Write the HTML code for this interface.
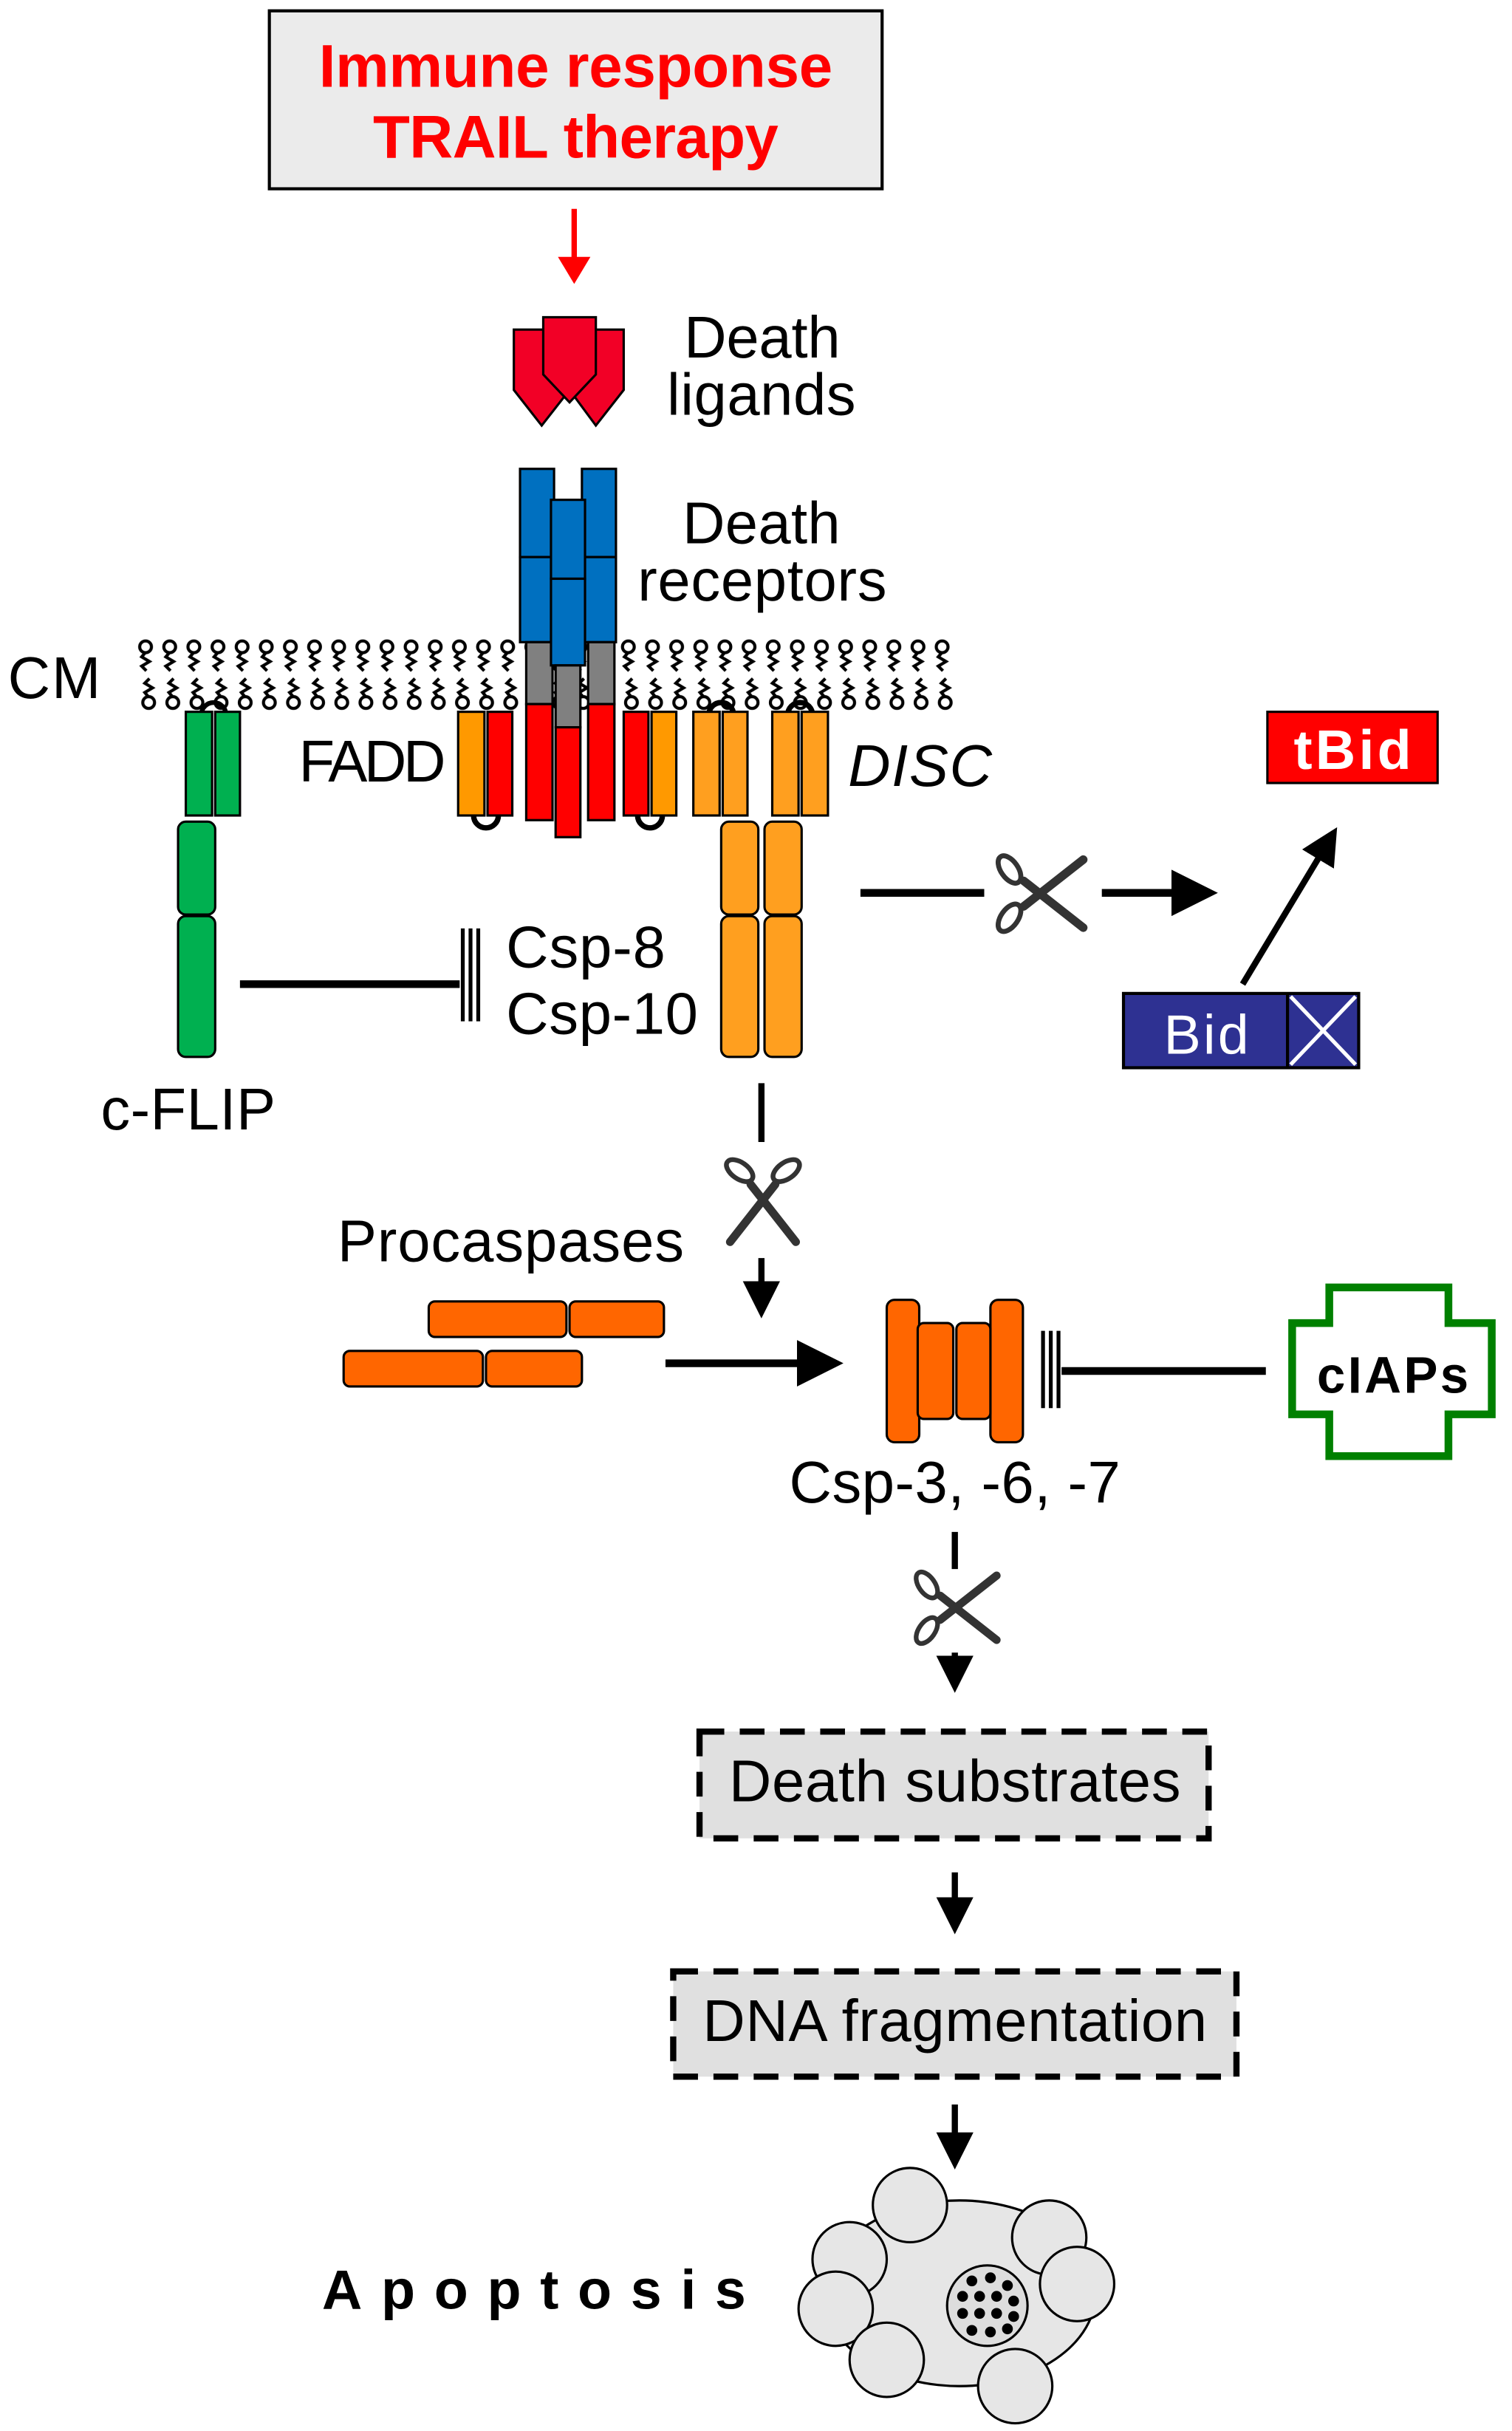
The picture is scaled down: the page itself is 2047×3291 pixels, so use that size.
<!DOCTYPE html>
<html><head><meta charset="utf-8"><style>
html,body{margin:0;padding:0;background:#fff}
svg{display:block}
text{font-family:"Liberation Sans",Arial,sans-serif}
</style></head><body>
<svg width="2047" height="3291" viewBox="0 0 977 1571" xmlns="http://www.w3.org/2000/svg">
<defs>
<pattern id="lip" x="87" y="410" width="15.6" height="52" patternUnits="userSpaceOnUse">
 <circle cx="7" cy="8" r="3.8" fill="#fff" stroke="#000" stroke-width="2"/>
 <path d="M7 11.5 l-2.5 3 l5 3 l-5 3 l3 3" fill="none" stroke="#000" stroke-width="2"/>
 <circle cx="9" cy="44" r="3.8" fill="#fff" stroke="#000" stroke-width="2"/>
 <path d="M9 40.5 l-2.5 -3 l5 -3 l-5 -3 l3 -3" fill="none" stroke="#000" stroke-width="2"/>
</pattern>
<symbol id="sc" viewBox="-35 -30 70 60" overflow="visible">
 <line x1="-12" y1="-9" x2="30" y2="24" stroke="#333" stroke-width="6" stroke-linecap="round"/>
 <line x1="-12" y1="9" x2="30" y2="-24" stroke="#333" stroke-width="6" stroke-linecap="round"/>
 <ellipse cx="-22" cy="-17" rx="6" ry="11" transform="rotate(-35 -22 -17)" fill="none" stroke="#333" stroke-width="3.5"/>
 <ellipse cx="-22" cy="17" rx="6" ry="11" transform="rotate(35 -22 17)" fill="none" stroke="#333" stroke-width="3.5"/>
</symbol>
<marker id="ah" markerWidth="6" markerHeight="6" refX="5" refY="3" orient="auto" markerUnits="strokeWidth"><path d="M0 0 L6 3 L0 6z" fill="#000"/></marker>
<marker id="ahr" markerWidth="5" markerHeight="6" refX="4" refY="3" orient="auto" markerUnits="strokeWidth"><path d="M0 0 L5 3 L0 6z" fill="#f00"/></marker>
</defs>

<rect x="174" y="7" width="396" height="115" fill="#ebebeb" stroke="#000" stroke-width="2"/>
<text x="372" y="56" text-anchor="middle" font-size="39" font-weight="bold" fill="#f00" textLength="332">Immune response</text>
<text x="372" y="102" text-anchor="middle" font-size="39" font-weight="bold" fill="#f00" textLength="262">TRAIL therapy</text>
<line x1="371" y1="135" x2="371" y2="180" stroke="#f00" stroke-width="3.5" marker-end="url(#ahr)"/>

<path d="M332 213 H368 V252 L350 275 L332 252Z" fill="#f20026" stroke="#000" stroke-width="1.5"/>
<path d="M368 213 H403 V252 L385 275 L368 252Z" fill="#f20026" stroke="#000" stroke-width="1.5"/>
<path d="M351 205 H385 V242 L368 260 L351 242Z" fill="#f20026" stroke="#000" stroke-width="1.5"/>
<text x="442" y="231" font-size="38" textLength="101">Death</text>
<text x="431" y="268" font-size="38" textLength="122">ligands</text>

<rect x="87" y="410" width="532" height="52" fill="url(#lip)"/>
<text x="5" y="451" font-size="38" textLength="60">CM</text>

<g stroke="#000" stroke-width="1.5">
<rect x="336" y="303" width="22" height="57" fill="#0070c0"/>
<rect x="336" y="360" width="22" height="55" fill="#0070c0"/>
<rect x="376" y="303" width="22" height="57" fill="#0070c0"/>
<rect x="376" y="360" width="22" height="55" fill="#0070c0"/>
<rect x="340" y="415" width="17" height="40" fill="#808080"/>
<rect x="380" y="415" width="17" height="40" fill="#808080"/>
<rect x="340" y="455" width="17" height="75" fill="#f00"/>
<rect x="380" y="455" width="17" height="75" fill="#f00"/>
<rect x="356" y="323" width="22" height="51" fill="#0070c0"/>
<rect x="356" y="374" width="22" height="56" fill="#0070c0"/>
<rect x="359" y="430" width="16" height="40" fill="#808080"/>
<rect x="359" y="470" width="16" height="71" fill="#f00"/>
</g>
<text x="441" y="351" font-size="38" textLength="102">Death</text>
<text x="412" y="388" font-size="38" textLength="161">receptors</text>

<g stroke="#000" stroke-width="1.5" fill="#00b050">
<path d="M130 462 a8 8 0 0 1 16 0" fill="none" stroke-width="3"/>
<rect x="120" y="460" width="17" height="67"/>
<rect x="139" y="460" width="16" height="67"/>
<rect x="115" y="531" width="24" height="60" rx="5"/>
<rect x="115" y="592" width="24" height="91" rx="5"/>
</g>
<text x="65" y="730" font-size="38" textLength="113">c-FLIP</text>
<line x1="155" y1="636" x2="297" y2="636" stroke="#000" stroke-width="5"/>
<g stroke="#000" stroke-width="2.5"><line x1="299" y1="600" x2="299" y2="660"/><line x1="304" y1="600" x2="304" y2="660"/><line x1="309" y1="600" x2="309" y2="660"/></g>
<text x="327" y="625" font-size="38" textLength="103">Csp-8</text>
<text x="327" y="668" font-size="38" textLength="124">Csp-10</text>

<text x="193" y="505" font-size="38" textLength="95">FADD</text>
<g stroke="#000" stroke-width="1.5">
<path d="M306 527 a8 8 0 0 0 16 0" fill="none" stroke-width="3.5"/>
<path d="M412 527 a8 8 0 0 0 16 0" fill="none" stroke-width="3.5"/>
<rect x="296" y="460" width="17" height="67" fill="#ff9900"/>
<rect x="315" y="460" width="16" height="67" fill="#f00"/>
<rect x="403" y="460" width="16" height="67" fill="#f00"/>
<rect x="421" y="460" width="16" height="67" fill="#ff9900"/>
<path d="M458 462 a8 8 0 0 1 16 0" fill="none" stroke-width="3.5"/>
<path d="M509 462 a8 8 0 0 1 16 0" fill="none" stroke-width="3.5"/>
<rect x="448" y="460" width="17" height="67" fill="#ff9f1f"/>
<rect x="467" y="460" width="16" height="67" fill="#ff9f1f"/>
<rect x="499" y="460" width="17" height="67" fill="#ff9f1f"/>
<rect x="518" y="460" width="17" height="67" fill="#ff9f1f"/>
<rect x="466" y="531" width="24" height="60" rx="5" fill="#ff9f1f"/>
<rect x="466" y="592" width="24" height="91" rx="5" fill="#ff9f1f"/>
<rect x="494" y="531" width="24" height="60" rx="5" fill="#ff9f1f"/>
<rect x="494" y="592" width="24" height="91" rx="5" fill="#ff9f1f"/>
</g>
<text x="548" y="508" font-size="38" font-style="italic" textLength="93">DISC</text>

<line x1="556" y1="577" x2="636" y2="577" stroke="#000" stroke-width="5"/>
<use href="#sc" x="640" y="550" width="65" height="55"/>
<line x1="712" y1="577" x2="782" y2="577" stroke="#000" stroke-width="5" marker-end="url(#ah)"/>
<rect x="726" y="642" width="152" height="48" fill="#2e3192" stroke="#000" stroke-width="2"/>
<line x1="832" y1="642" x2="832" y2="690" stroke="#000" stroke-width="2"/>
<g stroke="#fff" stroke-width="2.5"><line x1="834" y1="644" x2="876" y2="688"/><line x1="876" y1="644" x2="834" y2="688"/></g>
<text x="752" y="681" font-size="36" fill="#fff" textLength="55">Bid</text>
<line x1="803" y1="636" x2="862" y2="538" stroke="#000" stroke-width="4" marker-end="url(#ah)"/>
<rect x="819" y="460" width="110" height="46" fill="#f00" stroke="#000" stroke-width="1.5"/>
<text x="874" y="497" text-anchor="middle" font-size="36" font-weight="bold" fill="#fff" textLength="76">tBid</text>

<line x1="492" y1="700" x2="492" y2="738" stroke="#000" stroke-width="4"/>
<use href="#sc" x="462" y="745" width="62" height="62" transform="rotate(90 493 776)"/>
<line x1="492" y1="813" x2="492" y2="848" stroke="#000" stroke-width="4" marker-end="url(#ah)"/>
<text x="218" y="815" font-size="38" textLength="224">Procaspases</text>
<g stroke="#000" stroke-width="1.5" fill="#ff6600">
<rect x="277" y="841" width="89" height="23" rx="4"/>
<rect x="368" y="841" width="61" height="23" rx="4"/>
<rect x="222" y="873" width="90" height="23" rx="4"/>
<rect x="314" y="873" width="62" height="23" rx="4"/>
</g>
<line x1="430" y1="881" x2="540" y2="881" stroke="#000" stroke-width="5" marker-end="url(#ah)"/>
<g stroke="#000" stroke-width="1.5" fill="#ff6600">
<rect x="573" y="840" width="21" height="92" rx="5"/>
<rect x="640" y="840" width="21" height="92" rx="5"/>
<rect x="593" y="855" width="23" height="62" rx="4"/>
<rect x="618" y="855" width="22" height="62" rx="4"/>
</g>
<g stroke="#000" stroke-width="2.5"><line x1="674" y1="860" x2="674" y2="910"/><line x1="679" y1="860" x2="679" y2="910"/><line x1="684" y1="860" x2="684" y2="910"/></g>
<line x1="686" y1="886" x2="818" y2="886" stroke="#000" stroke-width="5"/>
<path d="M859 832 H936 V855 H964 V914 H936 V941 H859 V914 H835 V855 H859Z" fill="#fff" stroke="#008000" stroke-width="5"/>
<text x="900" y="900" text-anchor="middle" font-size="33" font-weight="bold" textLength="98">cIAPs</text>
<text x="510" y="971" font-size="38" textLength="214">Csp-3, -6, -7</text>

<line x1="617" y1="990" x2="617" y2="1014" stroke="#000" stroke-width="4"/>
<use href="#sc" x="586" y="1013" width="64" height="52"/>
<line x1="617" y1="1068" x2="617" y2="1090" stroke="#000" stroke-width="4" marker-end="url(#ah)"/>

<rect x="452" y="1119" width="329" height="69" fill="#e0e0e0" stroke="#000" stroke-width="4" stroke-dasharray="16 10"/>
<text x="617" y="1164" text-anchor="middle" font-size="38" textLength="292">Death substrates</text>
<line x1="617" y1="1210" x2="617" y2="1246" stroke="#000" stroke-width="4" marker-end="url(#ah)"/>
<rect x="435" y="1274" width="364" height="68" fill="#e0e0e0" stroke="#000" stroke-width="4" stroke-dasharray="16 10"/>
<text x="617" y="1319" text-anchor="middle" font-size="38" textLength="326">DNA fragmentation</text>
<line x1="617" y1="1360" x2="617" y2="1398" stroke="#000" stroke-width="4" marker-end="url(#ah)"/>

<text x="208" y="1492" font-size="36" font-weight="bold" textLength="274" lengthAdjust="spacing">Apoptosis</text>
<g stroke="#000" stroke-width="1.5" fill="#e6e6e6">
<ellipse cx="620" cy="1482" rx="88" ry="60"/>
<circle cx="588" cy="1425" r="24"/>
<circle cx="549" cy="1460" r="24"/>
<circle cx="540" cy="1492" r="24"/>
<circle cx="573" cy="1525" r="24"/>
<circle cx="678" cy="1446" r="24"/>
<circle cx="696" cy="1476" r="24"/>
<circle cx="656" cy="1542" r="24"/>
<circle cx="638" cy="1490" r="26" fill="#ddd"/>
</g>
<g fill="#000">
<circle cx="628" cy="1474" r="3.5"/><circle cx="640" cy="1472" r="3.5"/><circle cx="651" cy="1477" r="3.5"/>
<circle cx="622" cy="1484" r="3.5"/><circle cx="633" cy="1484" r="3.5"/><circle cx="644" cy="1484" r="3.5"/><circle cx="655" cy="1487" r="3.5"/>
<circle cx="622" cy="1495" r="3.5"/><circle cx="633" cy="1495" r="3.5"/><circle cx="644" cy="1495" r="3.5"/><circle cx="655" cy="1497" r="3.5"/>
<circle cx="628" cy="1506" r="3.5"/><circle cx="640" cy="1507" r="3.5"/><circle cx="651" cy="1505" r="3.5"/>
</g>
</svg>
</body></html>
